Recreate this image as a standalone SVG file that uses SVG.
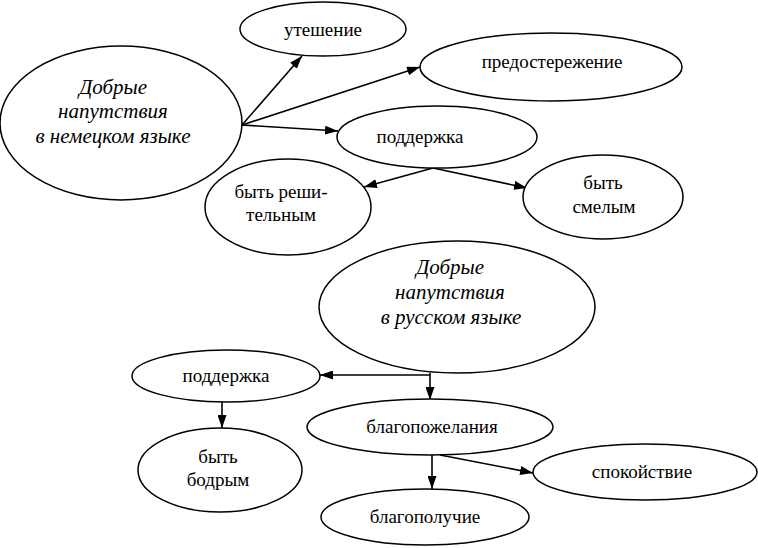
<svg xmlns="http://www.w3.org/2000/svg" width="758" height="548" viewBox="0 0 758 548">
<defs>
<style>
.n ellipse{fill:#fff;stroke:#000;stroke-width:1.5}
.t{font-family:"Liberation Serif","Times New Roman",serif;font-size:19px;text-anchor:middle;fill:#000}
.ti{font-family:"Liberation Serif","Times New Roman",serif;font-size:21px;font-style:italic;text-anchor:middle;fill:#000}
.c line{stroke:#000;stroke-width:1.6;fill:none}
</style>
<marker id="a" viewBox="0 0 13 9" refX="13" refY="4.5" markerWidth="13" markerHeight="9" markerUnits="userSpaceOnUse" orient="auto">
<path d="M0,0 L13,4.5 L0,9 Z" fill="#000"/>
</marker>
</defs>
<rect width="758" height="548" fill="#fff"/>
<g id="connectors" class="c">
<line x1="242" y1="125" x2="302" y2="56" marker-end="url(#a)"/>
<line x1="242" y1="125" x2="420" y2="67" marker-end="url(#a)"/>
<line x1="242" y1="125" x2="338" y2="131" marker-end="url(#a)"/>
<line x1="433" y1="168" x2="364" y2="187" marker-end="url(#a)"/>
<line x1="433" y1="168" x2="527" y2="188" marker-end="url(#a)"/>
<line x1="430" y1="375" x2="320" y2="375" marker-end="url(#a)"/>
<line x1="430" y1="373" x2="430" y2="400" marker-end="url(#a)"/>
<line x1="222" y1="402" x2="222" y2="428" marker-end="url(#a)"/>
<line x1="432" y1="455" x2="432" y2="489" marker-end="url(#a)"/>
<line x1="440" y1="455" x2="533" y2="473" marker-end="url(#a)"/>
</g>
<g id="n-de" class="n"><ellipse cx="121" cy="123" rx="121" ry="77"/>
<text class="ti" x="113" y="94">Добрые</text>
<text class="ti" x="113" y="118">напутствия</text>
<text class="ti" x="113" y="143">в немецком языке</text></g>
<g id="n-uteshenie" class="n"><ellipse cx="323" cy="29" rx="83" ry="27"/>
<text class="t" x="323" y="36">утешение</text></g>
<g id="n-predosterezhenie" class="n"><ellipse cx="551" cy="67" rx="131" ry="34"/>
<text class="t" x="552" y="68">предостережение</text></g>
<g id="n-podderzhka1" class="n"><ellipse cx="437" cy="137" rx="100" ry="31"/>
<text class="t" x="420" y="143">поддержка</text></g>
<g id="n-reshitelnym" class="n"><ellipse cx="288" cy="207" rx="83" ry="48"/>
<text class="t" x="281" y="198">быть реши-</text>
<text class="t" x="281" y="221">тельным</text></g>
<g id="n-smelym" class="n"><ellipse cx="603" cy="197" rx="80" ry="42"/>
<text class="t" x="603" y="189">быть</text>
<text class="t" x="604" y="213">смелым</text></g>
<g id="n-ru" class="n"><ellipse cx="457" cy="307" rx="138" ry="66"/>
<text class="ti" x="450" y="274">Добрые</text>
<text class="ti" x="450" y="299">напутствия</text>
<text class="ti" x="451" y="324">в русском языке</text></g>
<g id="n-podderzhka2" class="n"><ellipse cx="226" cy="376" rx="94" ry="26"/>
<text class="t" x="226" y="382">поддержка</text></g>
<g id="n-bodrym" class="n"><ellipse cx="220" cy="470" rx="82" ry="42"/>
<text class="t" x="218" y="463">быть</text>
<text class="t" x="218" y="486">бодрым</text></g>
<g id="n-blagopozhelaniya" class="n"><ellipse cx="430" cy="427" rx="123" ry="28"/>
<text class="t" x="432" y="433">благопожелания</text></g>
<g id="n-spokoystvie" class="n"><ellipse cx="645" cy="472" rx="112" ry="28"/>
<text class="t" x="642" y="478">спокойствие</text></g>
<g id="n-blagopoluchie" class="n"><ellipse cx="425" cy="517" rx="104" ry="28"/>
<text class="t" x="425" y="523">благополучие</text></g>
</svg>
